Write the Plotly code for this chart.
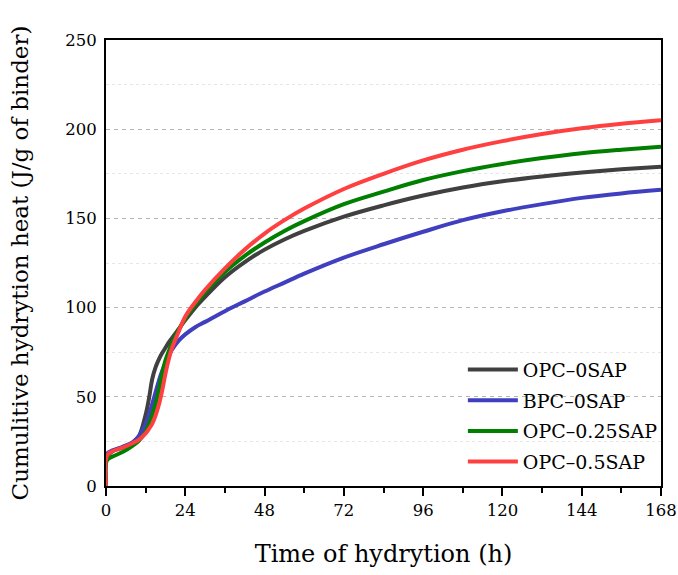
import plotly.graph_objects as go

time_h = [0, 0.3, 2, 5, 8, 10, 12, 13, 14, 15, 16, 17, 18, 19, 20, 22, 24, 27, 30, 36, 42, 48,
          54, 60, 72, 84, 96, 108, 120, 132, 144, 156, 168]

opc_0sap = [0, 16, 19.5, 21.5, 24, 28, 40, 49, 60, 66.5, 71, 74.5, 77.5, 80.5, 83, 88, 93, 100, 106,
            117, 125.5, 132.5, 138.2, 143, 151, 157.3, 162.8, 167.3, 170.8, 173.5, 175.7, 177.5, 179]
bpc_0sap = [0, 18, 20, 22, 24.5, 28, 35, 40, 46, 52.5, 59, 64.5, 69, 73, 76.5, 81.5, 85, 89, 92,
            98, 103.5, 109, 114, 119, 128, 135.5, 142.5, 149, 154, 158, 161.5, 164, 166]
opc_025sap = [0, 14.5, 16.5, 19, 22.5, 25.5, 30.5, 35, 40, 46, 54, 63, 70.5, 75.5, 80.5, 87.5, 94, 101.5, 108.5,
              120, 129, 136.5, 143, 148.5, 158, 165, 171.5, 176.5, 180.5, 183.8, 186.5, 188.5, 190.2]
opc_05sap = [0, 17, 19.5, 21.5, 24, 26, 29.5, 32, 35, 39.5, 45.5, 53.5, 63, 71, 77.5, 86.5, 95, 103, 110,
             122, 132.5, 141.5, 149, 155.5, 166.5, 175, 182.5, 188.5, 193.3, 197.3, 200.5, 203, 205]

series_names = ["OPC\u20130SAP", "BPC\u20130SAP", "OPC\u20130.25SAP", "OPC\u20130.5SAP"]
series_values = [opc_0sap, bpc_0sap, opc_025sap, opc_05sap]
series_colors = ["#404040", "#3f3fbf", "#007f00", "#ff4040"]

x_ticks = [0, 24, 48, 72, 96, 120, 144, 168]
y_ticks = [0, 50, 100, 150, 200, 250]
y_minor_ticks = [25, 75, 125, 175, 225]

FONT = "DejaVu Serif"

fig = go.Figure()
for name, vals, col in zip(series_names, series_values, series_colors):
    fig.add_trace(go.Scatter(x=time_h, y=vals, mode="lines", name=name, legendgroup=name,
                             line=dict(color=col, width=4, shape="spline", smoothing=1.0)))

fig.update_layout(
    width=678, height=575,
    margin=dict(l=106, r=17, t=40, b=89),
    paper_bgcolor="white", plot_bgcolor="white",
    font=dict(family=FONT, color="black", size=16),
    showlegend=True,
    legend=dict(x=0.643, y=0.012, xanchor="left", yanchor="bottom",
                font=dict(family=FONT, size=19), bgcolor="rgba(0,0,0,0)",
                tracegroupgap=3, itemwidth=50),
    xaxis=dict(
        range=[0, 168], tickmode="array", tickvals=x_ticks, ticktext=[str(v) for v in x_ticks],
        ticks="outside", ticklen=8, tickwidth=2, tickcolor="black",
        showline=True, linewidth=2, linecolor="black", mirror=True,
        showgrid=False, zeroline=False, automargin=False,
        minor=dict(dtick=12, tick0=0, ticks="outside", ticklen=5, tickwidth=2, tickcolor="black", showgrid=False),
        tickfont=dict(family=FONT, size=16.5),
        title=dict(text="Time of hydrytion (h)", font=dict(family=FONT, size=24), standoff=26),
    ),
    yaxis=dict(
        range=[0, 250], tickmode="array", tickvals=y_ticks, ticktext=[str(v) for v in y_ticks],
        ticks="", showline=True, linewidth=2, linecolor="black", mirror=True,
        showgrid=True, gridcolor="#b4b4b4", griddash="4px,4px", gridwidth=1,
        zeroline=False, automargin=False,
        minor=dict(tickmode="array", tickvals=y_minor_ticks, showgrid=True, gridcolor="#e6e6e6",
                   griddash="dot", gridwidth=1),
        tickfont=dict(family=FONT, size=16.5),
        ticklabelstandoff=4,
        title=dict(text="Cumulitive hydrytion heat (J/g of binder)", font=dict(family=FONT, size=23), standoff=30),
    ),
)

fig.write_html("out.html")
